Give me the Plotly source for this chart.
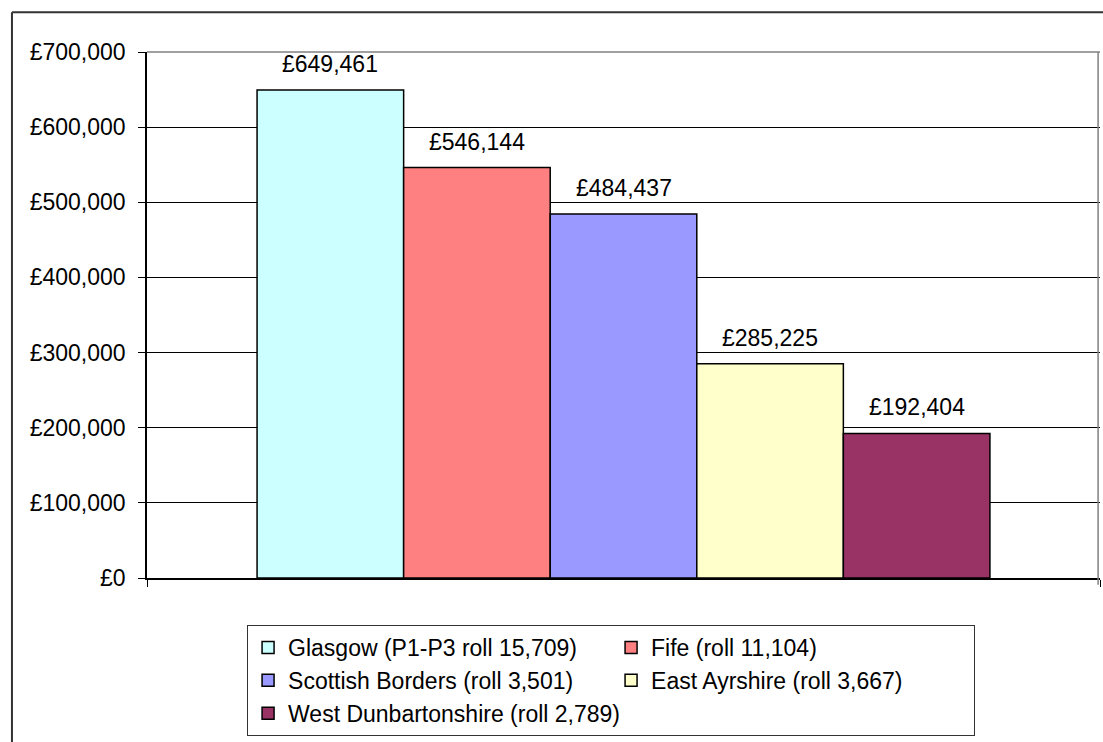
import plotly.graph_objects as go

# ---- data ----
areas = ["Glasgow", "Fife", "Scottish Borders", "East Ayrshire", "West Dunbartonshire"]
roll_prefix = ["P1-P3 roll", "roll", "roll", "roll", "roll"]
rolls = [15709, 11104, 3501, 3667, 2789]
values = [649461, 546144, 484437, 285225, 192404]
colors = ["#CCFFFF", "#FF8080", "#9999FF", "#FFFFCC", "#993366"]
y_ticks = [0, 100000, 200000, 300000, 400000, 500000, 600000, 700000]
y_tick_text = [f"£{v:,}" for v in y_ticks]

FONT = "Liberation Sans, Arial, sans-serif"
FS = 23
BARGAP = 0.231
n = len(areas)

fig = go.Figure()
for i, (a, p, r, v, c) in enumerate(zip(areas, roll_prefix, rolls, values, colors)):
    fig.add_trace(go.Bar(
        x=[0], y=[v],
        name=f"{a} ({p} {r:,})",
        marker=dict(color=c, line=dict(color="#000000", width=1.5)),
        hoverinfo="skip",
    ))

# value labels above bars (positions derived from bar layout)
bw = (1 - BARGAP) / n
for i, v in enumerate(values):
    xc = -0.5 + BARGAP / 2 + bw * (i + 0.5)
    fig.add_annotation(x=xc, y=v, xref="x", yref="y", text=f"£{v:,}",
                       showarrow=False, yanchor="bottom", yshift=11,
                       font=dict(family=FONT, size=FS, color="#000000"))

# plot-area gray top/right border
fig.add_shape(type="line", xref="paper", yref="paper", x0=0, x1=1, y0=1, y1=1,
              line=dict(color="#808080", width=1.5))
fig.add_shape(type="line", xref="paper", yref="paper", x0=0.998, x1=0.998, y0=-0.013, y1=1,
              line=dict(color="#808080", width=1.5))
# outer chart border (left and top visible)
fig.add_shape(type="line", xref="paper", yref="paper", x0=-0.1417, x1=1.01, y0=1.0755, y1=1.0755,
              line=dict(color="#333333", width=2))
fig.add_shape(type="line", xref="paper", yref="paper", x0=-0.1417, x1=-0.1417, y0=-0.35, y1=1.0755,
              line=dict(color="#333333", width=2))

fig.update_layout(
    width=1103, height=742,
    margin=dict(l=147, r=3, t=52, b=164),
    paper_bgcolor="white", plot_bgcolor="white",
    barmode="group", bargap=BARGAP, bargroupgap=0,
    font=dict(family=FONT, size=FS, color="#000000"),
    showlegend=True,
    legend=dict(orientation="h", x=0.105, xanchor="left", y=-0.0894, yanchor="top",
                bordercolor="#333333", borderwidth=1, bgcolor="white",
                entrywidth=318, entrywidthmode="pixels",
                font=dict(family=FONT, size=FS, color="#000000"),
                traceorder="normal"),
    xaxis=dict(range=[-0.5, 0.5], tickvals=[-0.5, 0.5], ticktext=["", ""],
               ticks="outside", ticklen=7, tickcolor="#000000", showgrid=False,
               showline=True, linecolor="#000000", linewidth=1.5, zeroline=False,
               fixedrange=True),
    yaxis=dict(range=[0, 700000], tickvals=y_ticks, ticktext=y_tick_text,
               ticks="outside", ticklen=7, tickcolor="#000000",
               showgrid=True, gridcolor="#000000", gridwidth=1,
               showline=True, linecolor="#000000", linewidth=1.5, zeroline=False,
               ticklabelstandoff=8,
               tickfont=dict(family=FONT, size=FS, color="#000000"), fixedrange=True),
)

fig.write_html("out.html", config={"displayModeBar": False},
               post_script="document.body.style.margin='0';document.body.style.overflow='hidden';")
